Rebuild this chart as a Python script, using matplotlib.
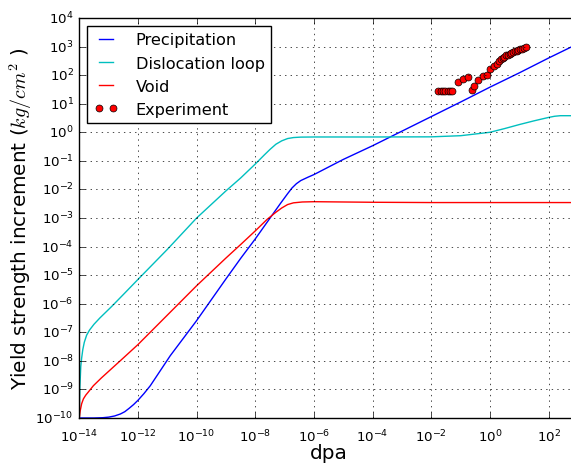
import numpy as np
import matplotlib
matplotlib.use('Agg')
import matplotlib.pyplot as plt

plt.style.use('classic')

prec_lx = [-14, -13.5, -13.2, -13.0, -12.8, -12.6, -12.45, -12.3, -12.15, -12, -11.8, -11.58, -10.9, -10, -9, -8.49,
           -8, -7.6, -7.15, -6.9, -6.75, -6.6, -6.45, -6.2, -6, -5, -4, -3, -2, -1, 0, 1, 2, 2.76, 3]
prec_ly = [-10, -10, -9.99, -9.97, -9.93, -9.86, -9.78, -9.66, -9.53, -9.38, -9.15, -8.87, -7.82, -6.59, -5.13, -4.4,
           -3.73, -3.15, -2.5, -2.15, -1.95, -1.8, -1.69, -1.57, -1.48, -0.95, -0.47, 0.04, 0.55, 1.06, 1.58, 2.08, 2.6, 2.98, 3.1]

loop_lx = [-14, -13.98, -13.95, -13.92, -13.88, -13.83, -13.75, -13.65, -13.5, -13.3, -13.1, -12.9, -12.5, -12, -11, -10,
           -9, -8.5, -8, -7.7, -7.5, -7.3, -7.1, -6.9, -6.7, -6.46, -6, -4, -2, -1, -0.5, 0, 0.5, 1, 1.5, 2, 2.2, 2.4, 3]
loop_ly = [-10, -8.9, -8.2, -7.9, -7.6, -7.35, -7.1, -6.92, -6.72, -6.5, -6.3, -6.1, -5.68, -5.15, -4.1, -3.0,
           -2.05, -1.6, -1.11, -0.8, -0.6, -0.42, -0.3, -0.22, -0.185, -0.17, -0.165, -0.165, -0.16, -0.12, -0.06, 0, 0.13, 0.27, 0.4, 0.52, 0.56, 0.58, 0.58]

void_lx = [-14, -13.97, -13.92, -13.86, -13.78, -13.7, -13.52, -13.25, -12.95, -12.5, -12, -11, -10, -9, -8.48,
           -8, -7.6, -7.3, -7.1, -6.9, -6.7, -6.4, -6, -4, -2, 0, 3]
void_ly = [-10, -9.75, -9.5, -9.33, -9.2, -9.1, -8.87, -8.6, -8.32, -7.9, -7.43, -6.4, -5.37, -4.4, -3.91,
           -3.45, -3.05, -2.8, -2.65, -2.53, -2.47, -2.44, -2.43, -2.45, -2.46, -2.46, -2.46]

exp_lx = [-1.76, -1.68, -1.6, -1.52, -1.44, -1.36, -1.28, -1.10, -0.93, -0.74,
          -0.60, -0.53, -0.40, -0.23, -0.11, 0.0, 0.14, 0.25, 0.31, 0.37, 0.43, 0.49,
          0.55, 0.61, 0.67, 0.73, 0.79, 0.85, 0.91, 0.97, 1.03, 1.09, 1.16, 1.23]
exp_ly = [1.43, 1.43, 1.43, 1.43, 1.43, 1.43, 1.43, 1.75, 1.86, 1.92,
          1.48, 1.63, 1.84, 1.98, 2.01, 2.21, 2.31, 2.39, 2.5, 2.56, 2.6, 2.65,
          2.69, 2.72, 2.75, 2.78, 2.81, 2.84, 2.86, 2.88, 2.9, 2.92, 2.95, 2.97]

fig = plt.figure(figsize=(5.71, 4.64), dpi=100, facecolor='white')
ax = fig.add_axes([0.1389, 0.097, 0.8734, 0.8621])

ax.plot(np.power(10.0, prec_lx), np.power(10.0, prec_ly), 'b', label='Precipitation')
ax.plot(np.power(10.0, loop_lx), np.power(10.0, loop_ly), 'c', label='Dislocation loop')
ax.plot(np.power(10.0, void_lx), np.power(10.0, void_ly), 'r', label='Void')
ax.plot(np.power(10.0, exp_lx), np.power(10.0, exp_ly), 'ro', markersize=5, mec='k', mew=0.5,
        label='Experiment')

ax.set_xscale('log')
ax.set_yscale('log')
ax.set_xlim(1e-14, 1e3)
ax.set_ylim(1e-10, 1e4)
ax.set_xticks([10.0**k for k in range(-14, 3, 2)])
ax.set_yticks([10.0**k for k in range(-10, 5)])
ax.tick_params(labelsize=9.6)
ax.tick_params(axis='x', pad=7)
ax.grid(True)

ax.set_xlabel('dpa', fontsize=14.4, labelpad=-1)
ax.set_ylabel(r'Yield strength increment ($kg/cm^2$ )', fontsize=14.4, labelpad=1)

ax.legend(loc='upper left', fontsize=11.6, handlelength=1.5, handletextpad=1.1, numpoints=2)

fig.savefig('out.png', dpi=100, facecolor='white')
